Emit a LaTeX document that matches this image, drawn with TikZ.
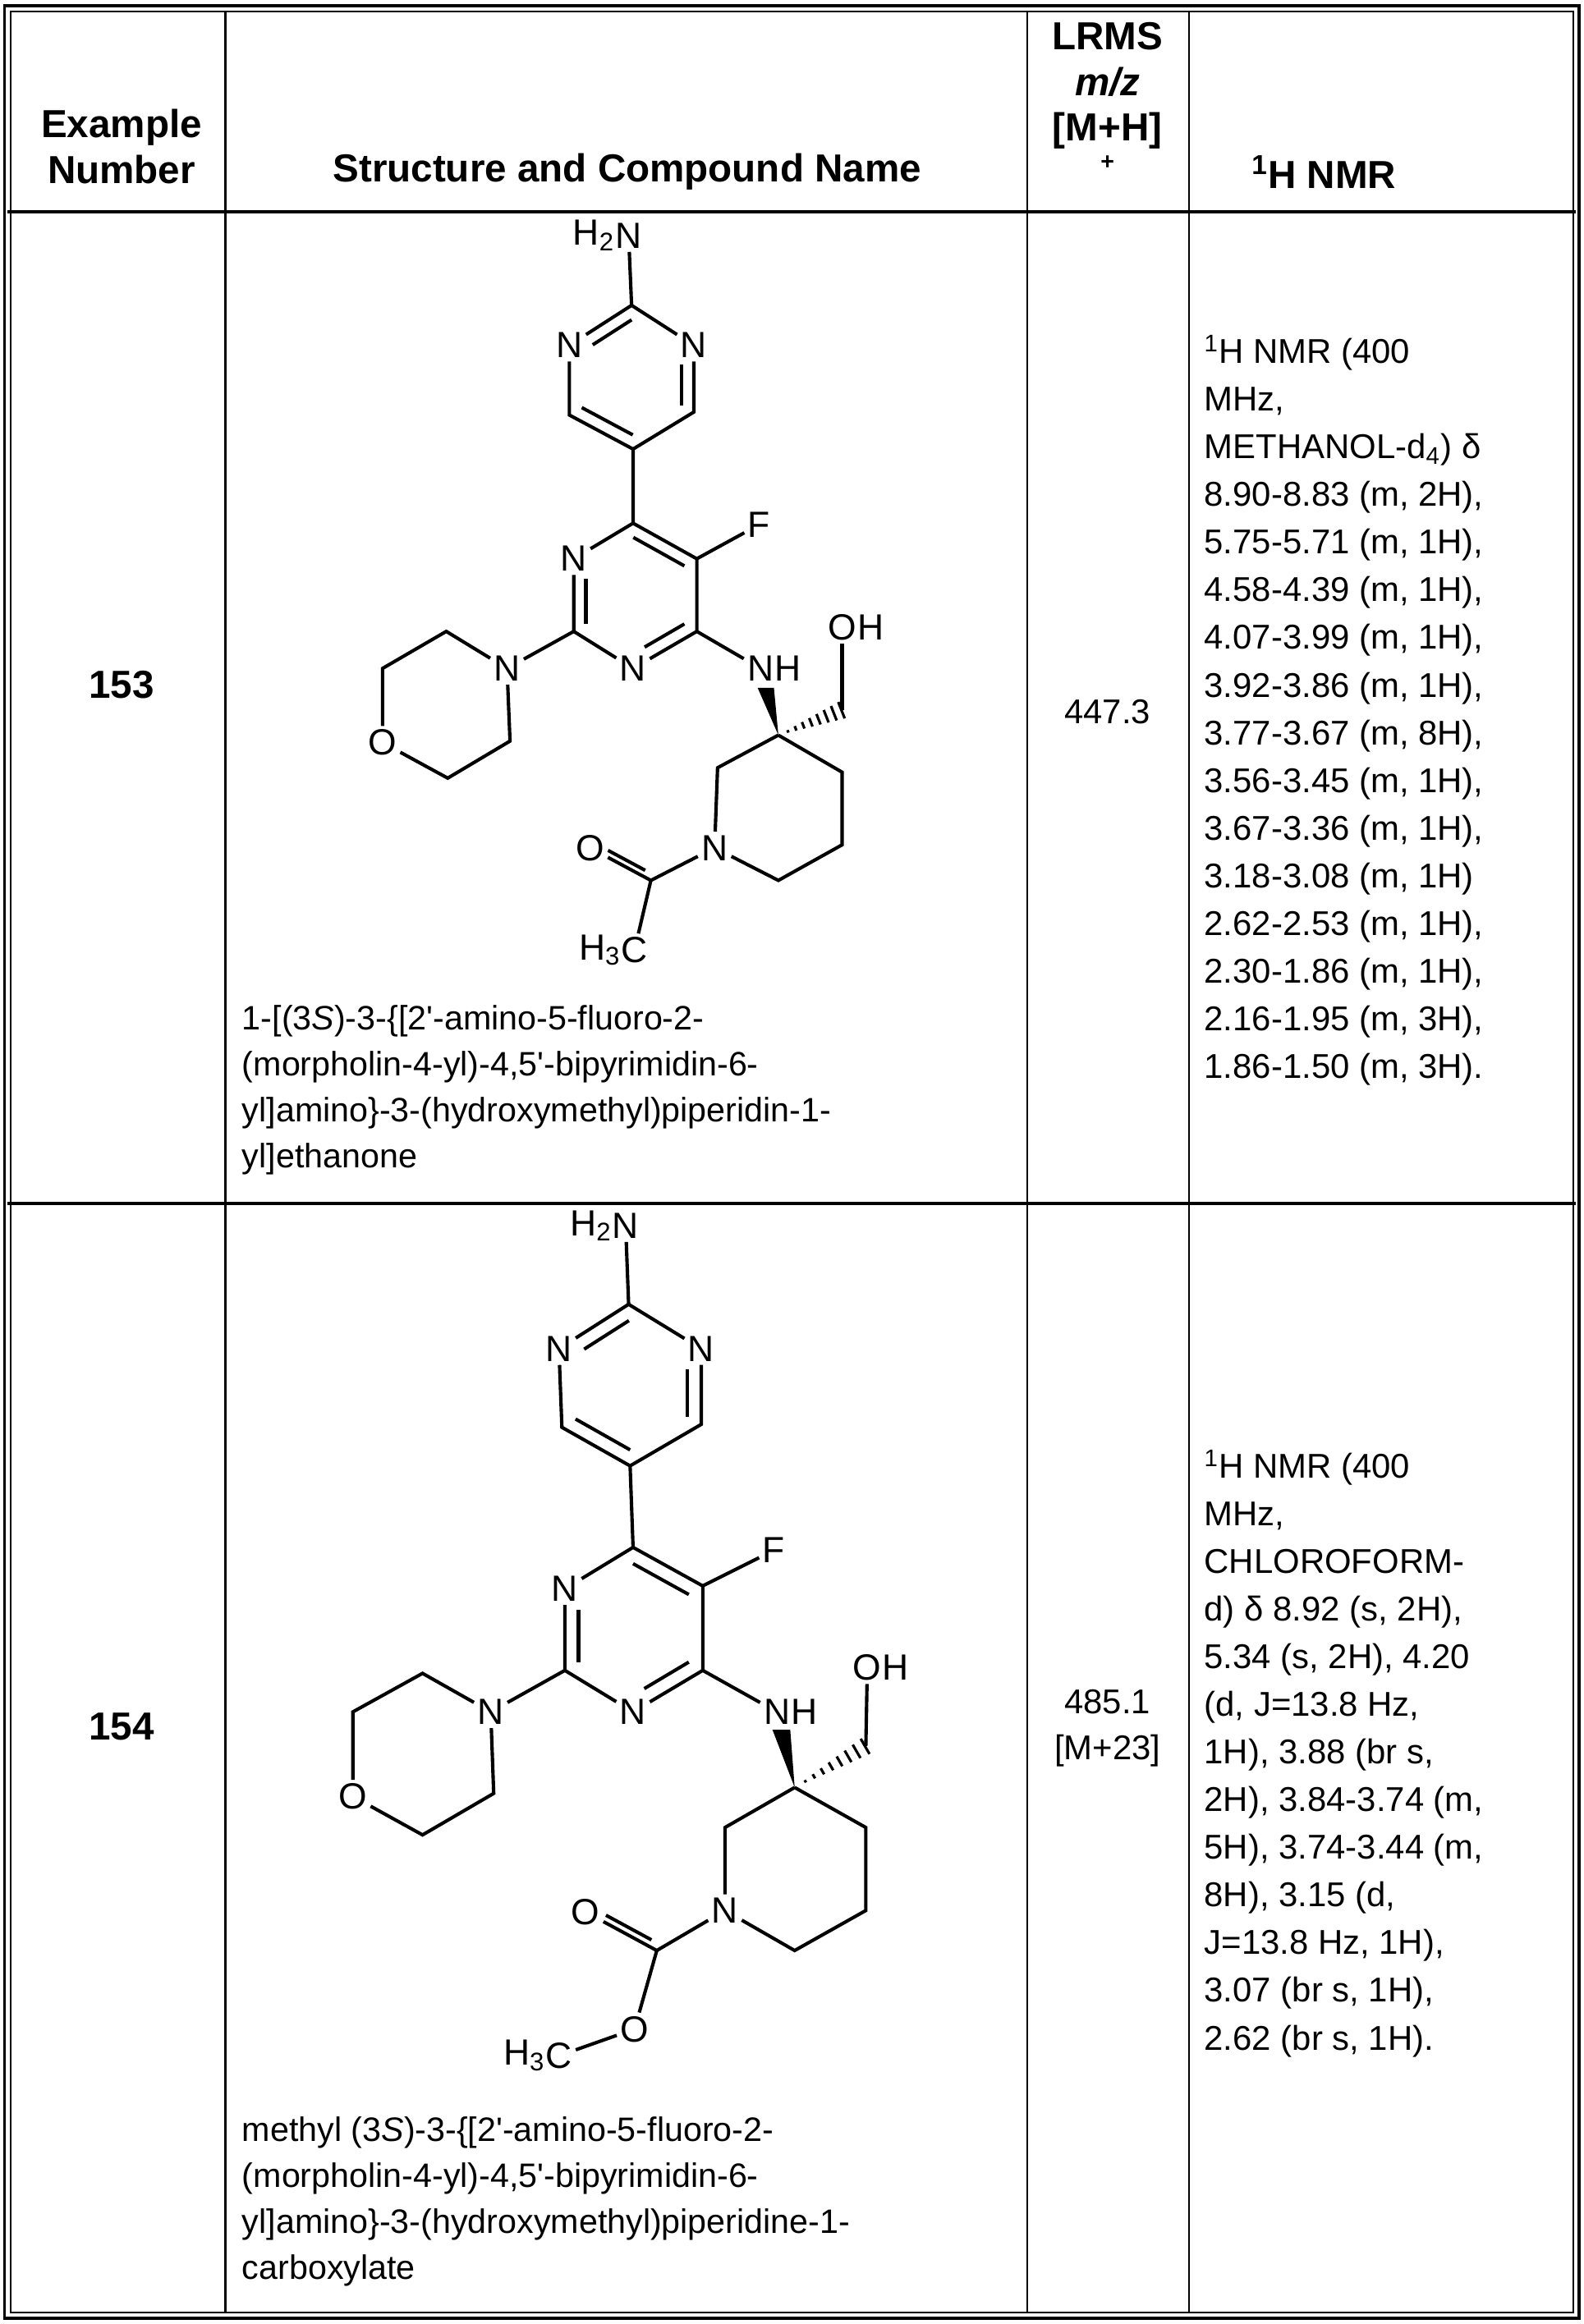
\documentclass[tikz,border=0pt]{standalone}
\usepackage{fontspec}
\setmainfont{Liberation Sans}
\usetikzlibrary{calc}
\newcommand\ap{\textquotesingle}
\begin{document}
\begin{tikzpicture}[x=0.02cm,y=-0.02cm,
  bond/.style={line width=1.3pt},
  atom/.style={inner sep=1.2pt,font=\fontsize{14}{15}\selectfont},
  subl/.style={inner sep=0pt,anchor=east,xshift=1.4pt,font=\fontsize{14}{15}\selectfont},
  subr/.style={inner sep=0pt,anchor=west,xshift=-1.2pt,font=\fontsize{14}{15}\selectfont},
  body/.style={font=\fontsize{13}{17.6}\selectfont,align=left,anchor=north west,inner sep=0pt},
  nmr/.style={font=\fontsize{13.2}{18.3}\selectfont,align=left,anchor=north west,inner sep=0pt},
  head/.style={font=\bfseries\fontsize{15}{17.5}\selectfont,align=center,inner sep=0pt},
  tab/.style={line width=1.1pt}]
\newcommand\ringdb[4][]{\draw[bond,#1] ($(#4)!0.8!(#2)$) -- ($(#4)!0.8!(#3)$);}
\useasboundingbox (0,0) rectangle (1068,1568);
% table frame
\draw[tab] (3,4) rectangle (1065,1564);
\draw[line width=0.6pt] (7,8) rectangle (1061,1560);
\draw[tab] (5,143) -- (1063,143);
\draw[tab] (5,812) -- (1063,812);
\draw[line width=0.8pt] (152,8) -- (152,1560);
\draw[line width=0.8pt] (693,8) -- (693,1560);
\draw[line width=0.8pt] (802,8) -- (802,1560);
% header
\node[head] (h1) at (82,99) {Example\\Number};
\node[head] (h2) at (423,116) {Structure and Compound Name};
\node[head] (h3) at (747,58) {LRMS\\\itshape m/z\\{[M+H]}};
\node[head,font=\bfseries\fontsize{9}{9}\selectfont] (h3b) at (747,110) {+};
\node[head] (h4) at (893,116) {\textsuperscript{1}H NMR};
% row labels
\node[head] (e153) at (82,462) {153};
\node[head] (e154) at (82,1165) {154};
\node[font=\fontsize{13.2}{17.6}\selectfont] (m153) at (747,480) {447.3};
\node[font=\fontsize{13.2}{17.6}\selectfont,align=center] (m154) at (747,1166) {485.1\\{[M+23]}};
% names
\node[body] (n153) at (163,678) {1-[(3\textit{S})-3-\{[2\ap-amino-5-fluoro-2-\\(morpholin-4-yl)-4,5\ap-bipyrimidin-6-\\yl]amino\}-3-(hydroxymethyl)piperidin-1-\\yl]ethanone};
\node[body] (n154) at (163,1428) {methyl (3\textit{S})-3-\{[2\ap-amino-5-fluoro-2-\\(morpholin-4-yl)-4,5\ap-bipyrimidin-6-\\yl]amino\}-3-(hydroxymethyl)piperidine-1-\\carboxylate};
% NMR
\node[nmr] (r153) at (812,226) {\textsuperscript{1}H NMR (400\\MHz,\\METHANOL-d\textsubscript{4}) δ\\8.90-8.83 (m, 2H),\\5.75-5.71 (m, 1H),\\4.58-4.39 (m, 1H),\\4.07-3.99 (m, 1H),\\3.92-3.86 (m, 1H),\\3.77-3.67 (m, 8H),\\3.56-3.45 (m, 1H),\\3.67-3.36 (m, 1H),\\3.18-3.08 (m, 1H)\\2.62-2.53 (m, 1H),\\2.30-1.86 (m, 1H),\\2.16-1.95 (m, 3H),\\1.86-1.50 (m, 3H).};
\node[nmr] (r154) at (812,978) {\textsuperscript{1}H NMR (400\\MHz,\\CHLOROFORM-\\d) δ 8.92 (s, 2H),\\5.34 (s, 2H), 4.20\\(d, J=13.8 Hz,\\1H), 3.88 (br s,\\2H), 3.84-3.74 (m,\\5H), 3.74-3.44 (m,\\8H), 3.15 (d,\\J=13.8 Hz, 1H),\\3.07 (br s, 1H),\\2.62 (br s, 1H).};

% ===== molecule 153 =====
\begin{scope}
\node[atom] (aN) at (424,159) {N};
\node[subl] (aH2) at (aN.west) {H\textsubscript{2}};
\coordinate (a2) at (426,206);
\node[atom] (aN1) at (384,233) {N};
\node[atom] (aN3) at (468,233) {N};
\coordinate (a6) at (384,280);
\coordinate (a4) at (468,278);
\coordinate (a5) at (427,303);
\coordinate (ac1) at (426,255);
\coordinate (b4) at (427,353);
\coordinate (b5) at (470,377);
\node[atom] (bF) at (512,354) {F};
\coordinate (b6) at (470,426);
\node[atom] (bN1) at (427,451) {N};
\coordinate (b2) at (387,426);
\node[atom] (bN3) at (387,377) {N};
\coordinate (bc) at (428,401);
\node[atom] (mN) at (342,451) {N};
\coordinate (m1) at (301,426);
\coordinate (m2) at (258,451);
\node[atom] (mO) at (258,501) {O};
\coordinate (m3) at (302,525);
\coordinate (m4) at (344,500);
\node[atom] (nN) at (513,451) {N};
\node[subr] (nH) at (nN.east) {H};
\coordinate (c3) at (525,496);
\coordinate (ch2) at (568,479);
\node[atom] (oO) at (568,423) {O};
\node[subr] (oH) at (oO.east) {H};
\coordinate (p2) at (484,518);
\node[atom] (pN) at (482,572) {N};
\coordinate (p6) at (525,594);
\coordinate (p5) at (568,570);
\coordinate (p4) at (568,521);
\coordinate (cc) at (439,594);
\node[atom] (cO) at (398,572) {O};
\node[atom] (cC) at (428,641) {C};
\node[subl] (cH3) at (cC.west) {H\textsubscript{3}};
\coordinate (cx) at (420,560);
\draw[bond] (aN) -- (a2) -- (aN1) -- (a6) -- (a5) -- (a4) -- (aN3) -- (a2);
\ringdb[shorten >=5pt]{a2}{aN1}{ac1}
\ringdb[shorten <=5pt]{aN3}{a4}{ac1}
\ringdb{a6}{a5}{ac1}
\draw[bond] (a5) -- (b4) -- (b5) -- (b6) -- (bN1) -- (b2) -- (bN3) -- (b4);
\ringdb{b4}{b5}{bc}
\ringdb[shorten >=5pt]{b6}{bN1}{bc}
\ringdb[shorten >=5pt]{b2}{bN3}{bc}
\draw[bond] (b5) -- (bF);
\draw[bond] (b2) -- (mN) -- (m1) -- (m2) -- (mO) -- (m3) -- (m4) -- (mN);
\draw[bond] (b6) -- (nN);
\fill (c3) -- (511,464) -- (522,464) -- cycle;
\foreach \t in {0.15,0.27,...,1.0} \draw[line width=1pt] ($(c3)!\t!(ch2)+\t*(2.2,5.6)$) -- ($(c3)!\t!(ch2)-\t*(2.2,5.6)$);
\draw[bond] (ch2) -- (oO);
\draw[bond] (c3) -- (p2) -- (pN) -- (p6) -- (p5) -- (p4) -- (c3);
\draw[bond] (pN) -- (cc) -- (cO);
\ringdb[shorten >=5pt]{cc}{cO}{cx}
\draw[bond] (cc) -- (cC);
\end{scope}

% ===== molecule 154 =====
\begin{scope}
\node[atom] (AN) at (422,827) {N};
\node[subl] (AH2) at (AN.west) {H\textsubscript{2}};
\coordinate (A2) at (424,880);
\node[atom] (AN1) at (377,910) {N};
\node[atom] (AN3) at (473,910) {N};
\coordinate (A6) at (379,963);
\coordinate (A4) at (473,961);
\coordinate (A5) at (425,989);
\coordinate (Ac) at (425,935);
\coordinate (B4) at (427,1044);
\coordinate (B5) at (474,1070);
\node[atom] (BF) at (522,1046) {F};
\coordinate (B6) at (474,1127);
\node[atom] (BN1) at (427,1155) {N};
\coordinate (B2) at (381,1127);
\node[atom] (BN3) at (381,1072) {N};
\coordinate (Bc) at (427,1099);
\node[atom] (MN) at (331,1155) {N};
\coordinate (M1) at (285,1129);
\coordinate (M2) at (238,1155);
\node[atom] (MO) at (238,1212) {O};
\coordinate (M3) at (285,1238);
\coordinate (M4) at (333,1210);
\node[atom] (NN) at (524,1155) {N};
\node[subr] (NH) at (NN.east) {H};
\coordinate (C3) at (536,1206);
\coordinate (CH2) at (584,1178);
\node[atom] (OO) at (585,1125) {O};
\node[subr] (OH) at (OO.east) {H};
\coordinate (P2) at (489,1233);
\node[atom] (PN) at (489,1289) {N};
\coordinate (P6) at (536,1316);
\coordinate (P5) at (584,1289);
\coordinate (P4) at (584,1233);
\coordinate (CC) at (443,1316);
\node[atom] (CO) at (395,1290) {O};
\node[atom] (EO) at (428,1369) {O};
\node[atom] (EC) at (377,1387) {C};
\node[subl] (EH3) at (EC.west) {H\textsubscript{3}};
\coordinate (Cx) at (425,1280);
\draw[bond] (AN) -- (A2) -- (AN1) -- (A6) -- (A5) -- (A4) -- (AN3) -- (A2);
\ringdb[shorten >=5pt]{A2}{AN1}{Ac}
\ringdb[shorten <=5pt]{AN3}{A4}{Ac}
\ringdb{A6}{A5}{Ac}
\draw[bond] (A5) -- (B4) -- (B5) -- (B6) -- (BN1) -- (B2) -- (BN3) -- (B4);
\ringdb{B4}{B5}{Bc}
\ringdb[shorten >=5pt]{B6}{BN1}{Bc}
\ringdb[shorten >=5pt]{B2}{BN3}{Bc}
\draw[bond] (B5) -- (BF);
\draw[bond] (B2) -- (MN) -- (M1) -- (M2) -- (MO) -- (M3) -- (M4) -- (MN);
\draw[bond] (B6) -- (NN);
\fill (C3) -- (521,1167) -- (533,1167) -- cycle;
\foreach \t in {0.15,0.27,...,1.0} \draw[line width=1pt] ($(C3)!\t!(CH2)+\t*(3,5.2)$) -- ($(C3)!\t!(CH2)-\t*(3,5.2)$);
\draw[bond] (CH2) -- (OO);
\draw[bond] (C3) -- (P2) -- (PN) -- (P6) -- (P5) -- (P4) -- (C3);
\draw[bond] (PN) -- (CC) -- (CO);
\ringdb[shorten >=5pt]{CC}{CO}{Cx}
\draw[bond] (CC) -- (EO) -- (EC);
\end{scope}
\end{tikzpicture}
\end{document}
